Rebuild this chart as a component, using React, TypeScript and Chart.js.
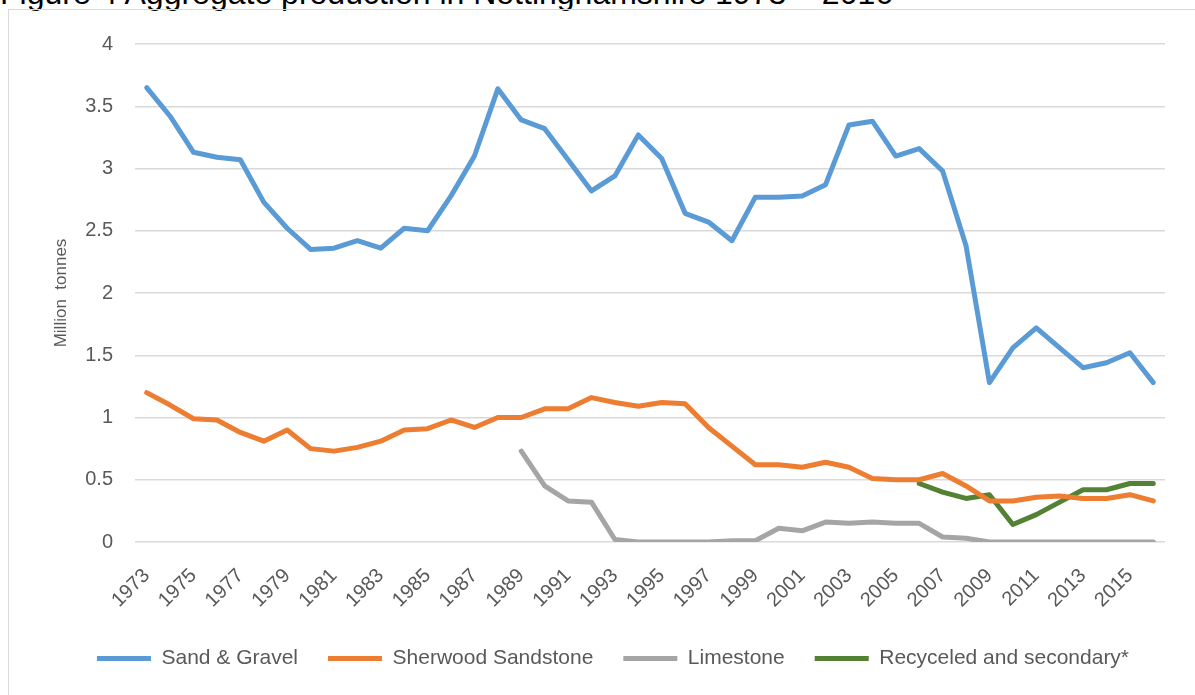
import React, { useEffect, useRef } from "react";
import { Chart, registerables } from "chart.js";

Chart.register(...registerables);

const years: string[] = [
  "1973","1974","1975","1976","1977","1978","1979","1980","1981","1982",
  "1983","1984","1985","1986","1987","1988","1989","1990","1991","1992",
  "1993","1994","1995","1996","1997","1998","1999","2000","2001","2002",
  "2003","2004","2005","2006","2007","2008","2009","2010","2011","2012",
  "2013","2014","2015","2016",
];

const sandGravel: (number | null)[] = [
  3.65, 3.42, 3.13, 3.09, 3.07, 2.73, 2.52, 2.35, 2.36, 2.42,
  2.36, 2.52, 2.50, 2.78, 3.10, 3.64, 3.39, 3.32, 3.07, 2.82,
  2.94, 3.27, 3.08, 2.64, 2.57, 2.42, 2.77, 2.77, 2.78, 2.87,
  3.35, 3.38, 3.10, 3.16, 2.98, 2.38, 1.28, 1.56, 1.72, 1.56,
  1.40, 1.44, 1.52, 1.28,
];

const sherwoodSandstone: (number | null)[] = [
  1.20, 1.10, 0.99, 0.98, 0.88, 0.81, 0.90, 0.75, 0.73, 0.76,
  0.81, 0.90, 0.91, 0.98, 0.92, 1.00, 1.00, 1.07, 1.07, 1.16,
  1.12, 1.09, 1.12, 1.11, 0.92, 0.77, 0.62, 0.62, 0.60, 0.64,
  0.60, 0.51, 0.50, 0.50, 0.55, 0.45, 0.33, 0.33, 0.36, 0.37,
  0.35, 0.35, 0.38, 0.33,
];

const limestone: (number | null)[] = [
  null, null, null, null, null, null, null, null, null, null,
  null, null, null, null, null, null, 0.73, 0.45, 0.33, 0.32,
  0.02, 0.0, 0.0, 0.0, 0.0, 0.01, 0.01, 0.11, 0.09, 0.16,
  0.15, 0.16, 0.15, 0.15, 0.04, 0.03, 0.0, 0.0, 0.0, 0.0,
  0.0, 0.0, 0.0, 0.0,
];

const recycled: (number | null)[] = [
  null, null, null, null, null, null, null, null, null, null,
  null, null, null, null, null, null, null, null, null, null,
  null, null, null, null, null, null, null, null, null, null,
  null, null, null, 0.47, 0.40, 0.35, 0.38, 0.14, 0.22, 0.32,
  0.42, 0.42, 0.47, 0.47,
];

const seriesNames = ["Sand & Gravel", "Sherwood Sandstone", "Limestone", "Recyceled and secondary*"];
const seriesColors = ["#5B9BD5", "#ED7D31", "#A5A5A5", "#548235"];
const yTicks = [0, 0.5, 1, 1.5, 2, 2.5, 3, 3.5, 4];

const FONT = "'Liberation Sans', Arial, sans-serif";

export default function App() {
  const ref = useRef<HTMLCanvasElement | null>(null);

  useEffect(() => {
    if (!ref.current) return;
    const values = [sandGravel, sherwoodSandstone, limestone, recycled];
    const chart = new Chart(ref.current, {
      type: "line",
      data: {
        labels: years,
        datasets: values.map((d, i) => ({
          label: seriesNames[i],
          data: d,
          borderColor: seriesColors[i],
          backgroundColor: seriesColors[i],
          borderWidth: 5,
          pointRadius: 0,
          pointHoverRadius: 0,
          borderCapStyle: "round" as const,
          borderJoinStyle: "round" as const,
          tension: 0,
          spanGaps: false,
        })),
      },
      options: {
        responsive: false,
        animation: false,
        layout: { padding: { left: 52, right: 30, top: 33, bottom: 16 } },
        plugins: {
          legend: {
            position: "bottom",
            labels: {
              usePointStyle: true,
              pointStyle: "line",
              pointStyleWidth: 54,
              color: "#595959",
              font: { family: FONT, size: 21 },
              padding: 30,
            },
          },
          tooltip: { enabled: false },
          title: { display: false },
        },
        scales: {
          x: {
            offset: true,
            grid: { display: false },
            border: { display: false },
            ticks: {
              autoSkip: false,
              minRotation: 45,
              maxRotation: 45,
              padding: 14,
              color: "#595959",
              font: { family: FONT, size: 20 },
              callback: (_v: any, idx: number) => (idx % 2 === 0 ? years[idx] : ""),
            },
            afterFit: (scale: any) => {
              scale.height = 76;
            },
          },
          y: {
            min: 0,
            max: 4,
            afterBuildTicks: (scale: any) => {
              scale.ticks = yTicks.map((v) => ({ value: v }));
            },
            grid: { color: "#D9D9D9", lineWidth: 1.5, drawTicks: false },
            border: { display: false },
            ticks: {
              padding: 22,
              color: "#595959",
              font: { family: FONT, size: 20 },
              callback: (v: any) => String(v),
            },
            title: {
              display: true,
              text: "Million  tonnes",
              color: "#595959",
              font: { family: FONT, size: 17 },
              padding: { top: -10, bottom: 0 },
            },
            afterFit: (scale: any) => {
              scale.width = 74;
            },
          },
        },
      },
    });
    return () => chart.destroy();
  }, []);

  return (
    <div
      style={{
        position: "fixed",
        left: 0,
        top: 0,
        width: 1195,
        height: 695,
        overflow: "hidden",
        background: "#ffffff",
      }}
    >
      <div
        style={{
          position: "absolute",
          left: 0,
          top: -25,
          whiteSpace: "nowrap",
          fontFamily: FONT,
          fontSize: 32,
          color: "#000000",
          lineHeight: "36px",
        }}
      >
        Figure 4 Aggregate production in Nottinghamshire 1973 – 2016
      </div>
      <div
        style={{
          position: "absolute",
          left: 8,
          top: 9,
          width: 1300,
          height: 800,
          borderLeft: "1px solid #D9D9D9",
          borderTop: "1px solid #D9D9D9",
        }}
      />
      <canvas
        ref={ref}
        width={1186}
        height={685}
        style={{ position: "absolute", left: 9, top: 10, width: 1186, height: 685 }}
      />
    </div>
  );
}
